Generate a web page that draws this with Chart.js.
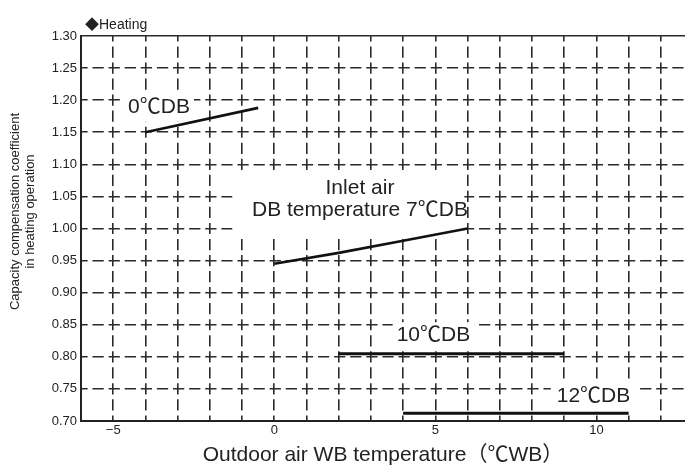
<!DOCTYPE html>
<html>
<head>
<meta charset="utf-8">
<script src="https://cdn.jsdelivr.net/npm/chart.js@4.4.1/dist/chart.umd.min.js"></script>
<style>
  html, body { margin: 0; padding: 0; background: #fff; }
</style>
</head>
<body>
<canvas id="heatChart" width="685" height="468"></canvas>
<script>
// Outdoor WB temperature (x) and capacity coefficient (y), one pair per inlet DB temperature
var wb0 = [-4, -0.5];
var coef0 = [1.15, 1.188];
var wb7 = [0, 2, 4, 6];
var coef7 = [0.945, 0.962, 0.981, 1.0];
var wb10 = [2, 9];
var coef10 = [0.805, 0.805];
var wb12 = [4, 11];
var coef12 = [0.712, 0.712];

// Axis ticks
var xGridValues = [-6, -5, -4, -3, -2, -1, 0, 1, 2, 3, 4, 5, 6, 7, 8, 9, 10, 11, 12];
var xTickLabels = { "-5": "\u22125", "0": "0", "5": "5", "10": "10" };
var yTickValues = [0.70, 0.75, 0.80, 0.85, 0.90, 0.95, 1.00, 1.05, 1.10, 1.15, 1.20, 1.25, 1.30];
var yTickLabels = ["0.70", "0.75", "0.80", "0.85", "0.90", "0.95", "1.00", "1.05", "1.10", "1.15", "1.20", "1.25", "1.30"];

var FONT = "'Liberation Sans', Arial, 'Noto Sans CJK SC', sans-serif";

function toPoints(xs, ys) {
    return xs.map(function (x, i) { return { x: x, y: ys[i] }; });
}

// dashes sized so each cross of the grid sits in the middle of a dash
function gridDash(chart, otherAxis) {
    var s = chart.scales && chart.scales[otherAxis];
    if (!s || !s.width && !s.height) return [11, 5];
    var step = otherAxis == "x"
        ? Math.abs(s.getPixelForValue(1) - s.getPixelForValue(0))
        : Math.abs(s.getPixelForValue(0.75) - s.getPixelForValue(0.70));
    var period = step / 2;
    return [period * 0.7, period * 0.3];
}

var curveText = {
    id: "curveText",
    beforeDatasetsDraw: function (chart, args, opts) {
        var ctx = chart.ctx, xs = chart.scales.x, ys = chart.scales.y;
        ctx.save();
        ctx.font = opts.size + "px " + FONT;
        ctx.fillStyle = "#fff";
        opts.labels.forEach(function (lb) {
            if (lb.box) {
                var x1 = xs.getPixelForValue(lb.box[0]), y1 = ys.getPixelForValue(lb.box[1]);
                var x2 = xs.getPixelForValue(lb.box[2]), y2 = ys.getPixelForValue(lb.box[3]);
                ctx.fillRect(x1, y1, x2 - x1, y2 - y1);
            } else {
                var w = ctx.measureText(lb.lines[0]).width;
                var cx = xs.getPixelForValue(lb.x), cy = ys.getPixelForValue(lb.y);
                ctx.fillRect(cx - w / 2 - lb.pad[0], cy - opts.size / 2 - lb.pad[1], w + 2 * lb.pad[0], opts.size + 2 * lb.pad[1]);
            }
        });
        ctx.restore();
    },
    afterDatasetsDraw: function (chart, args, opts) {
        var ctx = chart.ctx, xs = chart.scales.x, ys = chart.scales.y;
        ctx.save();
        ctx.font = opts.size + "px " + FONT;
        ctx.fillStyle = "#222";
        ctx.textAlign = "center";
        ctx.textBaseline = "middle";
        opts.labels.forEach(function (lb) {
            var cx = xs.getPixelForValue(lb.x), cy = ys.getPixelForValue(lb.y);
            var lh = opts.size * 1.07;
            var top = cy - (lb.lines.length - 1) * lh / 2;
            lb.lines.forEach(function (line, i) {
                ctx.fillText(line, cx, top + i * lh);
            });
        });

        // header above the plot
        var area = chart.chartArea;
        ctx.textAlign = "left";
        ctx.font = "14px " + FONT;
        ctx.fillText("\u25C6Heating", area.left + 4, area.top - 11);

        // two line y axis title
        ctx.font = "13px " + FONT;
        ctx.textAlign = "center";
        ctx.translate(15, (area.top + area.bottom) / 2 - 17);
        ctx.rotate(-Math.PI / 2);
        ctx.fillText("Capacity compensation coefficient", 0, 0);
        ctx.fillText("in heating operation", 0, 15.5);
        ctx.restore();
    }
};

var ctx = document.getElementById("heatChart").getContext("2d");
var heatChart = new Chart(ctx, {
    type: "line",
    plugins: [curveText],
    data: {
        datasets: [
            { label: "0℃DB", data: toPoints(wb0, coef0), borderWidth: 2.6 },
            { label: "7℃DB", data: toPoints(wb7, coef7), borderWidth: 2.6 },
            { label: "10℃DB", data: toPoints(wb10, coef10), borderWidth: 3 },
            { label: "12℃DB", data: toPoints(wb12, coef12), borderWidth: 3 },
        ],
    },
    options: {
        responsive: false,
        animation: false,
        devicePixelRatio: 1,
        layout: { padding: { top: 36, left: 0, right: 0, bottom: 0 } },
        elements: {
            line: { borderColor: "#111", tension: 0, fill: false },
            point: { radius: 0 },
        },
        plugins: {
            legend: { display: false },
            tooltip: { enabled: false },
            curveText: {
                size: 21,
                labels: [
                    { lines: ["0℃DB"], x: -3.58, y: 1.189, pad: [4, 4] },
                    { lines: ["Inlet air", "DB temperature 7℃DB"], x: 2.66, y: 1.046, box: [-1.3, 1.088, 5.9, 0.986] },
                    { lines: ["10℃DB"], x: 4.94, y: 0.833, pad: [4, 3] },
                    { lines: ["12℃DB"], x: 9.91, y: 0.739, pad: [6, 5] },
                ],
            },
        },
        scales: {
            x: {
                type: "linear",
                min: -6,
                max: 12.75,
                afterBuildTicks: function (scale) {
                    scale.ticks = xGridValues.map(function (v) { return { value: v }; });
                },
                afterFit: function (scale) { scale.height = 47; },
                grid: { color: "#2a2a2a", lineWidth: 1.6, drawTicks: false },
                border: {
                    color: "#222",
                    width: 2,
                    dash: function (c) { return gridDash(c.chart, "y"); },
                    dashOffset: function (c) { return gridDash(c.chart, "y")[0] / 2; },
                },
                ticks: {
                    padding: 2,
                    color: "#222",
                    font: { family: FONT, size: 13 },
                    maxRotation: 0,
                    autoSkip: false,
                    callback: function (v) { return xTickLabels[String(v)] || ""; },
                },
                title: {
                    display: true,
                    text: "Outdoor air WB temperature（℃WB）",
                    color: "#222",
                    font: { family: FONT, size: 21 },
                    padding: { top: 0, bottom: 0 },
                },
            },
            y: {
                min: 0.70,
                max: 1.30,
                afterBuildTicks: function (scale) {
                    scale.ticks = yTickValues.map(function (v) { return { value: v }; });
                },
                afterFit: function (scale) { scale.width = 81; },
                grid: { color: "#2a2a2a", lineWidth: 1.6, drawTicks: false },
                border: {
                    color: "#222",
                    width: 2,
                    dash: function (c) {
                        if (c.tick && c.tick.value >= 1.2999) return [];
                        return gridDash(c.chart, "x");
                    },
                    dashOffset: function (c) { return gridDash(c.chart, "x")[0] / 2; },
                },
                ticks: {
                    padding: 4,
                    color: "#222",
                    font: { family: FONT, size: 13 },
                    autoSkip: false,
                    callback: function (v, i) { return yTickLabels[i]; },
                },
            },
        },
    },
});
</script>
</body>
</html>
